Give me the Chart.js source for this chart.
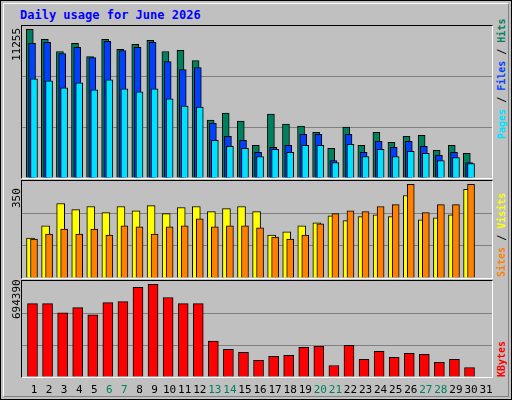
<!DOCTYPE html>
<html>
<head>
<meta charset="utf-8">
<script src="https://cdn.jsdelivr.net/npm/chart.js@4/dist/chart.umd.min.js"></script>
<style>
  body { margin: 0; background: #fff; }
  #frame { position: relative; width: 510px; height: 398px; background: #c0c0c0; border: 1px solid #000; overflow: hidden;
           font-family: "DejaVu Sans Mono", monospace; }
  #bevel { position: absolute; left: 2px; top: 2px; right: 2px; bottom: 2px; border-top: 1px solid #fff; border-left: 1px solid #fff;
           border-right: 1px solid #808080; border-bottom: 1px solid #808080; }
  .panel { position: absolute; left: 20px; width: 470px; border-top: 1px solid #000; border-left: 1px solid #000;
           border-right: 1px solid #fff; border-bottom: 1px solid #fff; }
  .panel canvas { position: absolute; left: 0; top: 0; }
  .rot { position: absolute; transform-origin: 0 0; transform: rotate(-90deg); white-space: nowrap; font-size: 11px; }
  .rr { font-size: 10px; font-weight: bold; }
  .day { position: absolute; top: 382px; width: 16px; text-align: center; font-size: 11px; color: #000; }
  #title { position: absolute; left: 19px; top: 7px; font-size: 12px; font-weight: bold; color: #0000ff; }
</style>
</head>
<body>
<div id="frame">
  <div id="bevel"></div>
  <div id="title">Daily usage for June 2026</div>
  <div class="panel" style="top:24px;height:152px"><canvas id="c1" width="470" height="152"></canvas></div>
  <div class="panel" style="top:179px;height:97px"><canvas id="c2" width="470" height="97"></canvas></div>
  <div class="panel" style="top:279px;height:96px"><canvas id="c3" width="470" height="96"></canvas></div>
  <div class="rot" style="left:9px;top:60px">11255</div>
  <div class="rot" style="left:9px;top:207px">350</div>
  <div class="rot" style="left:9px;top:318px">694390</div>
  <div class="rot rr" style="left:495px;top:138px"><span style="color:#00e0ff">Pages</span> / <span style="color:#0040ff">Files</span> / <span style="color:#00805c">Hits</span></div>
  <div class="rot rr" style="left:495px;top:276px"><span style="color:#ff8000">Sites</span> / <span style="color:#ffff00">Visits</span></div>
  <div class="rot rr" style="left:495px;top:376px;color:#ff0000">KBytes</div>
  <div id="days"></div>
</div>
<script>
const days = Array.from({length: 31}, (_, i) => i + 1);
const weekend = [6, 7, 13, 14, 20, 21, 27, 28];
const hits = [11255,10490,9574,10185,9192,10490,9727,10109,10414,9574,9650,8886,4380,4914,4303,2470,4838,4074,3921,3463,2241,3845,2470,3463,2699,3157,3234,2088,2470,1859];
const files = [10184,10260,9420,9878,9115,10337,9649,9878,10260,8809,8198,8351,4150,3157,2852,1935,2317,2470,3310,3310,1324,3310,1935,2775,2317,2775,2393,1706,1935,1171];
const pages = [7511,7358,6823,7205,6671,7434,6747,6518,6747,5983,5448,5372,2852,2393,2240,1629,2164,1935,2470,2470,1171,2546,1629,2164,1629,2011,1859,1324,1553,1095];
const visits = [149,195,278,255,267,244,267,251,270,240,263,267,248,259,267,248,160,172,195,206,232,214,229,236,229,308,217,225,236,331];
const sites = [145,164,183,164,183,160,195,191,164,191,195,221,191,195,195,187,153,145,160,202,240,251,248,267,274,350,244,274,274,350];
const kbytes = [549900,549900,481500,519500,466300,557500,565100,671500,694390,595500,549900,549900,268600,207800,185000,124200,154600,162200,223000,230600,86200,238200,131800,192600,147000,177400,169800,109000,131800,71000];

// x pixel -> day units: day 1 label centre at canvas x 12, 15.07 px per day
const pxPerDay = 15.07;
const xMin = 1 - 12 / pxPerDay;
const xMax = xMin + 470 / pxPerDay;

// day labels
const dayBox = document.getElementById('days');
days.forEach(d => {
    const el = document.createElement('div');
    el.className = 'day';
    el.textContent = d;
    el.style.left = (21 + 12 + (d - 1) * pxPerDay - 8) + 'px';
    if (weekend.includes(d)) el.style.color = '#00805c';
    dayBox.appendChild(el);
});

function series(vals, shift, color, width, order) {
    return {
        data: vals.map((v, i) => ({ x: i + 1 + shift, y: v })),
        backgroundColor: color, borderColor: '#000', borderWidth: 1,
        barThickness: width, order: order, borderSkipped: 'bottom', grouped: false
    };
}

function makeChart(id, datasets, ymax) {
    new Chart(document.getElementById(id), {
        type: 'bar',
        data: { datasets },
        options: {
            responsive: false, animation: false,
            layout: { padding: 0 },
            plugins: { legend: { display: false }, tooltip: { enabled: false } },
            scales: {
                x: { type: 'linear', display: false, offset: false, min: xMin, max: xMax },
                y: {
                    min: 0, max: ymax,
                    ticks: { display: false, stepSize: ymax / 3 },
                    border: { display: false },
                    grid: {
                        drawTicks: false, lineWidth: 1,
                        color: c => (c.index === 0 || c.index === 3) ? 'transparent' : '#808080'
                    }
                }
            }
        }
    });
}

makeChart('c1', [
    series(hits, -0.28, '#00805c', 7, 3),
    series(files, -0.13, '#0040ff', 7, 2),
    series(pages, 0, '#00e0ff', 7, 1)
], 11500);
makeChart('c2', [
    series(visits, -0.23, '#ffff00', 8, 2),
    series(sites, 0, '#ff8000', 7, 1)
], 362);
makeChart('c3', [
    series(kbytes, -0.1, '#ff0000', 10, 1)
], 719400);
</script>
</body>
</html>
